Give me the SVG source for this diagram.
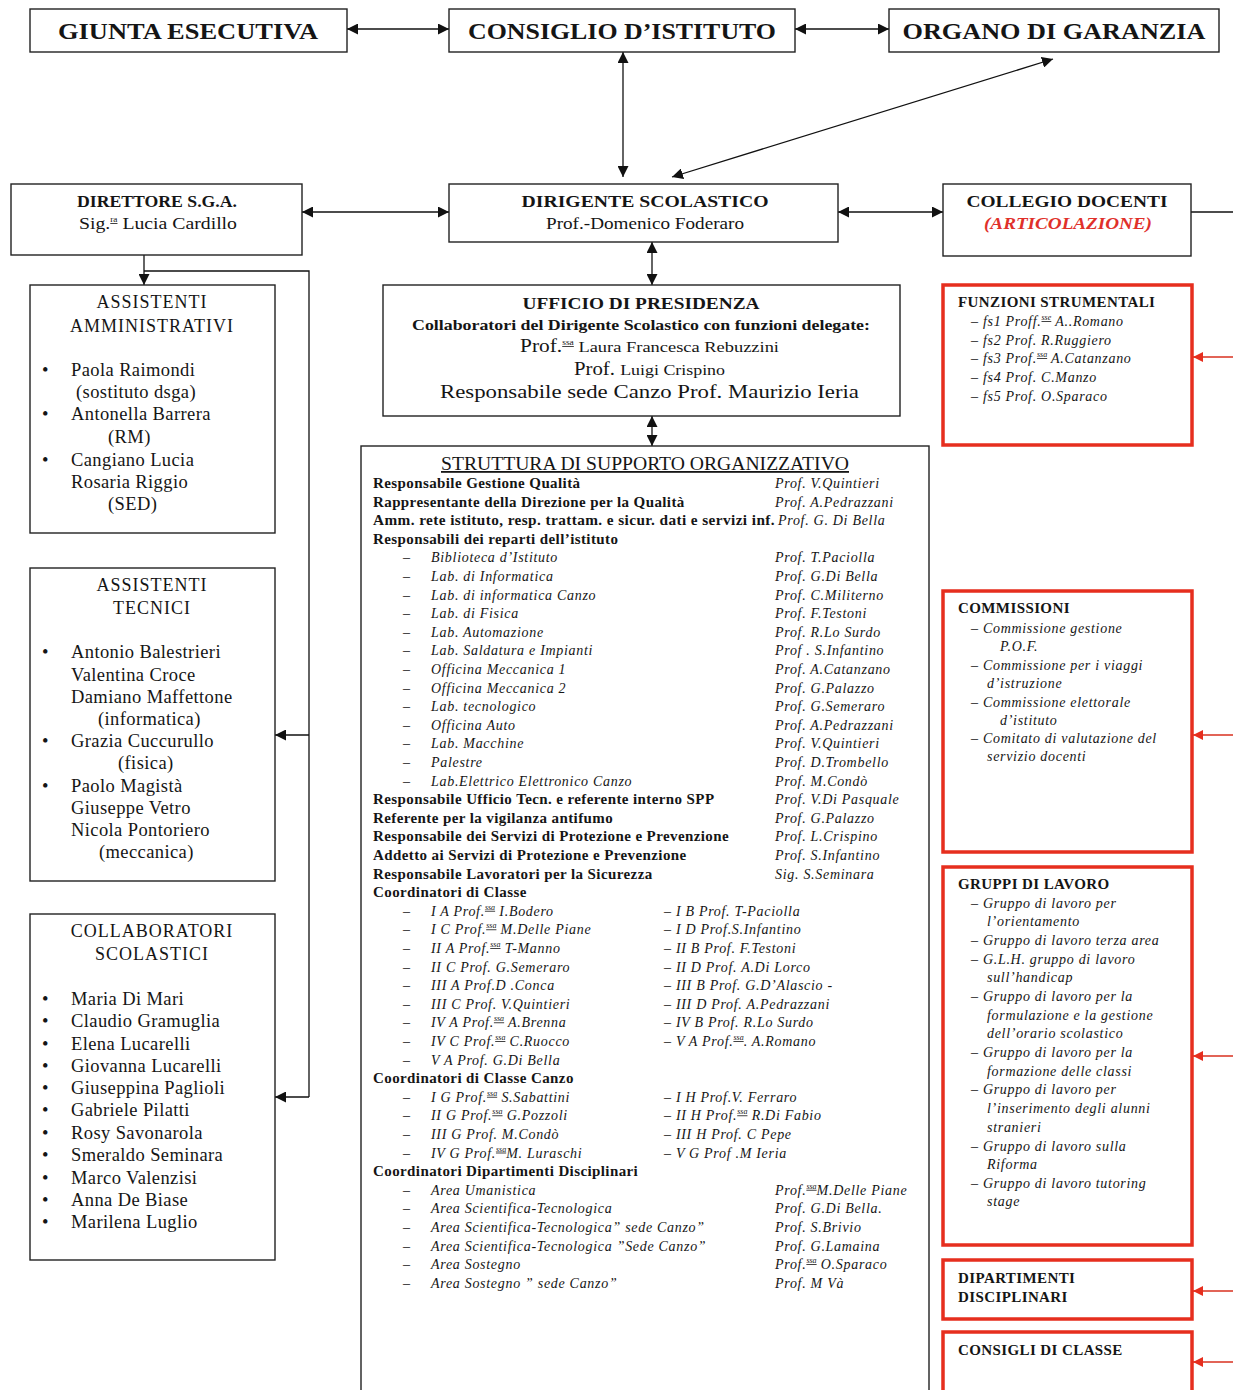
<svg xmlns="http://www.w3.org/2000/svg" width="1233" height="1390" viewBox="0 0 1233 1390">
<style>
.box{fill:#fff;stroke:#222;stroke-width:1.4}
.rbox{fill:#fff;stroke:#e62e1e;stroke-width:3.5}
.t{font-family:"Liberation Serif","Times New Roman",serif;fill:#151515}
.b{font-weight:bold}
.i{font-style:italic;letter-spacing:0.7px}
.big{font-size:24px;font-weight:bold}
.h17{font-size:17px}
.f14{font-size:14px}
.f14 .b,.b.f14{font-size:15px;letter-spacing:0.4px}
.f18{font-size:18px;letter-spacing:1px}
.f17{font-size:18.5px;letter-spacing:0.4px}
.ln{stroke:#111;stroke-width:1.3;fill:none}
.rln{stroke:#d9301f;stroke-width:1.3;fill:none}
.sup{font-size:8px;text-decoration:underline;letter-spacing:0}
</style>
<defs>
<marker id="ah" viewBox="0 0 10 10" refX="10" refY="5" markerWidth="11" markerHeight="11" markerUnits="userSpaceOnUse" orient="auto-start-reverse"><path d="M0,0 L10,5 L0,10 z" fill="#111"/></marker>
<marker id="rah" viewBox="0 0 10 10" refX="10" refY="5" markerWidth="10" markerHeight="10" markerUnits="userSpaceOnUse" orient="auto-start-reverse"><path d="M0,0 L10,5 L0,10 z" fill="#e62e1e"/></marker>
</defs>
<rect width="1233" height="1390" fill="#fff"/>

<g id="connectors">
<line class="ln" x1="347" y1="29" x2="449" y2="29" marker-start="url(#ah)" marker-end="url(#ah)"/>
<line class="ln" x1="795" y1="29" x2="889" y2="29" marker-start="url(#ah)" marker-end="url(#ah)"/>
<line class="ln" x1="623" y1="52" x2="623" y2="177" marker-start="url(#ah)" marker-end="url(#ah)"/>
<line class="ln" x1="1053" y1="59" x2="672" y2="177" marker-start="url(#ah)" marker-end="url(#ah)"/>
<line class="ln" x1="302" y1="212" x2="449" y2="212" marker-start="url(#ah)" marker-end="url(#ah)"/>
<line class="ln" x1="838" y1="212" x2="943" y2="212" marker-start="url(#ah)" marker-end="url(#ah)"/>
<line class="ln" x1="1191" y1="212" x2="1233" y2="212"/>
<line class="ln" x1="652" y1="242" x2="652" y2="285" marker-start="url(#ah)" marker-end="url(#ah)"/>
<line class="ln" x1="652" y1="416" x2="652" y2="446" marker-start="url(#ah)" marker-end="url(#ah)"/>
<line class="ln" x1="144" y1="255" x2="144" y2="285" marker-end="url(#ah)"/>
<polyline class="ln" points="144,271 309,271 309,1097"/>
<line class="ln" x1="309" y1="735" x2="275" y2="735" marker-end="url(#ah)"/>
<line class="ln" x1="309" y1="1097" x2="275" y2="1097" marker-end="url(#ah)"/>
<line class="rln" x1="1233" y1="357" x2="1193" y2="357" marker-end="url(#rah)"/>
<line class="rln" x1="1233" y1="735" x2="1193" y2="735" marker-end="url(#rah)"/>
<line class="rln" x1="1233" y1="1056" x2="1193" y2="1056" marker-end="url(#rah)"/>
<line class="rln" x1="1233" y1="1291" x2="1193" y2="1291" marker-end="url(#rah)"/>
<line class="rln" x1="1233" y1="1362" x2="1193" y2="1362" marker-end="url(#rah)"/>
</g>

<g id="giunta">
<rect class="box" x="30" y="9" width="317" height="43"/>
<text class="t big" x="188" y="39" text-anchor="middle" textLength="260" lengthAdjust="spacingAndGlyphs">GIUNTA ESECUTIVA</text>
</g>
<g id="consiglio">
<rect class="box" x="449" y="9" width="346" height="43"/>
<text class="t big" x="622" y="39" text-anchor="middle" textLength="308" lengthAdjust="spacingAndGlyphs">CONSIGLIO D’ISTITUTO</text>
</g>
<g id="organo">
<rect class="box" x="889" y="9" width="330" height="43"/>
<text class="t big" x="1054" y="39" text-anchor="middle" textLength="303" lengthAdjust="spacingAndGlyphs">ORGANO  DI GARANZIA</text>
</g>

<g id="direttore">
<rect class="box" x="11" y="184" width="291" height="71"/>
<text class="t b" font-size="16" x="157" y="207" text-anchor="middle" textLength="160" lengthAdjust="spacingAndGlyphs">DIRETTORE S.G.A.</text>
<text class="t" font-size="17" x="79" y="229" textLength="158" lengthAdjust="spacingAndGlyphs">Sig.<tspan class="sup" dy="-7">ra</tspan><tspan dy="7"> Lucia Cardillo</tspan></text>
</g>
<g id="dirigente">
<rect class="box" x="449" y="184" width="389" height="58"/>
<text class="t b h17" x="645" y="207" text-anchor="middle" textLength="247" lengthAdjust="spacingAndGlyphs">DIRIGENTE  SCOLASTICO</text>
<text class="t h17" x="645" y="229" text-anchor="middle" textLength="198" lengthAdjust="spacingAndGlyphs">Prof.-Domenico Foderaro</text>
</g>
<g id="collegio">
<rect class="box" x="943" y="184" width="248" height="72"/>
<text class="t b h17" x="1067" y="207" text-anchor="middle" textLength="201" lengthAdjust="spacingAndGlyphs">COLLEGIO DOCENTI</text>
<text class="t b h17" x="1068" y="229" text-anchor="middle" font-style="italic" style="fill:#e0302a" textLength="168" lengthAdjust="spacingAndGlyphs">(ARTICOLAZIONE)</text>
</g>

<g id="ufficio">
<rect class="box" x="383" y="285" width="517" height="131"/>
<text class="t b h17" x="641" y="309" text-anchor="middle" textLength="237" lengthAdjust="spacingAndGlyphs">UFFICIO DI PRESIDENZA</text>
<text class="t b" font-size="14.5" x="641" y="330" text-anchor="middle" textLength="458" lengthAdjust="spacingAndGlyphs">Collaboratori del Dirigente Scolastico con funzioni delegate:</text>
<text class="t" font-size="18" x="520" y="352" textLength="259" lengthAdjust="spacingAndGlyphs">Prof.<tspan class="sup" dy="-7">ssa</tspan><tspan dy="7" font-size="15.5"> Laura Francesca Rebuzzini</tspan></text>
<text class="t" font-size="18" x="574" y="375" textLength="151" lengthAdjust="spacingAndGlyphs">Prof. <tspan font-size="15.5">Luigi Crispino</tspan></text>
<text class="t" font-size="19" x="440" y="398" textLength="419" lengthAdjust="spacingAndGlyphs">Responsabile sede Canzo Prof. Maurizio Ieria</text>
</g>

<g id="struttura">
<rect class="box" x="361" y="446" width="568" height="950"/>
<text class="t" font-size="18" x="645" y="470" text-anchor="middle" text-decoration="underline" textLength="408" lengthAdjust="spacingAndGlyphs">STRUTTURA DI SUPPORTO ORGANIZZATIVO</text>
<g class="t f14">
<text class="b" x="373" y="488">Responsabile Gestione Qualità</text>
<text class="b" x="373" y="506.6">Rappresentante della Direzione per la Qualità</text>
<text class="b" x="373" y="525.2" textLength="402" lengthAdjust="spacingAndGlyphs">Amm. rete istituto, resp. trattam. e sicur. dati e servizi inf.</text>
<text class="b" x="373" y="543.8">Responsabili  dei reparti dell’istituto</text>
<text class="b" x="373" y="804.2">Responsabile Ufficio Tecn. e referente interno SPP</text>
<text class="b" x="373" y="822.8">Referente per la vigilanza antifumo</text>
<text class="b" x="373" y="841.4">Responsabile dei Servizi di Protezione e Prevenzione</text>
<text class="b" x="373" y="860">Addetto ai Servizi di Protezione e Prevenzione</text>
<text class="b" x="373" y="878.6">Responsabile Lavoratori per la Sicurezza</text>
<text class="b" x="373" y="897.2">Coordinatori di Classe</text>
<text class="b" x="373" y="1083.2">Coordinatori di Classe Canzo</text>
<text class="b" x="373" y="1176.2">Coordinatori Dipartimenti Disciplinari</text>
</g>
<g class="t f14 i">
<text x="775" y="488">Prof.  V.Quintieri</text>
<text x="775" y="506.6">Prof.  A.Pedrazzani</text>
<text x="778" y="525.2">Prof. G. Di Bella</text>
<text x="775" y="562.4">Prof. T.Paciolla</text>
<text x="775" y="581">Prof. G.Di Bella</text>
<text x="775" y="599.6">Prof. C.Militerno</text>
<text x="775" y="618.2">Prof. F.Testoni</text>
<text x="775" y="636.8">Prof. R.Lo Surdo</text>
<text x="775" y="655.4">Prof . S.Infantino</text>
<text x="775" y="674">Prof. A.Catanzano</text>
<text x="775" y="692.6">Prof. G.Palazzo</text>
<text x="775" y="711.2">Prof. G.Semeraro</text>
<text x="775" y="729.8">Prof. A.Pedrazzani</text>
<text x="775" y="748.4">Prof. V.Quintieri</text>
<text x="775" y="767">Prof. D.Trombello</text>
<text x="775" y="785.6">Prof. M.Condò</text>
<text x="775" y="804.2">Prof. V.Di Pasquale</text>
<text x="775" y="822.8">Prof.  G.Palazzo</text>
<text x="775" y="841.4">Prof. L.Crispino</text>
<text x="775" y="860">Prof. S.Infantino</text>
<text x="775" y="878.6">Sig.  S.Seminara</text>
<text x="775" y="1194.8">Prof.<tspan class="sup" dy="-6">ssa</tspan><tspan dy="6">M.Delle Piane</tspan></text>
<text x="775" y="1213.4">Prof. G.Di Bella.</text>
<text x="775" y="1232">Prof. S.Brivio</text>
<text x="775" y="1250.6">Prof. G.Lamaina</text>
<text x="775" y="1269.2">Prof.<tspan class="sup" dy="-6">ssa</tspan><tspan dy="6"> O.Sparaco</tspan></text>
<text x="775" y="1287.8">Prof. M Và</text>
</g>
<g class="t f14">
<text x="403" y="562.4">–</text><text x="403" y="581">–</text><text x="403" y="599.6">–</text><text x="403" y="618.2">–</text>
<text x="403" y="636.8">–</text><text x="403" y="655.4">–</text><text x="403" y="674">–</text><text x="403" y="692.6">–</text>
<text x="403" y="711.2">–</text><text x="403" y="729.8">–</text><text x="403" y="748.4">–</text><text x="403" y="767">–</text>
<text x="403" y="785.6">–</text>
<text x="403" y="915.8">–</text><text x="403" y="934.4">–</text><text x="403" y="953">–</text><text x="403" y="971.6">–</text>
<text x="403" y="990.2">–</text><text x="403" y="1008.8">–</text><text x="403" y="1027.4">–</text><text x="403" y="1046">–</text>
<text x="403" y="1064.6">–</text>
<text x="403" y="1101.8">–</text><text x="403" y="1120.4">–</text><text x="403" y="1139">–</text><text x="403" y="1157.6">–</text>
<text x="403" y="1194.8">–</text><text x="403" y="1213.4">–</text><text x="403" y="1232">–</text><text x="403" y="1250.6">–</text>
<text x="403" y="1269.2">–</text><text x="403" y="1287.8">–</text>
</g>
<g class="t f14 i">
<text x="431" y="562.4">Biblioteca d’Istituto</text>
<text x="431" y="581">Lab. di  Informatica</text>
<text x="431" y="599.6">Lab. di informatica Canzo</text>
<text x="431" y="618.2">Lab. di Fisica</text>
<text x="431" y="636.8">Lab. Automazione</text>
<text x="431" y="655.4">Lab. Saldatura  e Impianti</text>
<text x="431" y="674">Officina Meccanica 1</text>
<text x="431" y="692.6">Officina Meccanica 2</text>
<text x="431" y="711.2">Lab. tecnologico</text>
<text x="431" y="729.8">Officina Auto</text>
<text x="431" y="748.4">Lab. Macchine</text>
<text x="431" y="767">Palestre</text>
<text x="431" y="785.6">Lab.Elettrico Elettronico  Canzo</text>
<text x="431" y="915.8">I A  Prof.<tspan class="sup" dy="-6">ssa</tspan><tspan dy="6"> I.Bodero</tspan></text>
<text x="431" y="934.4">I C  Prof.<tspan class="sup" dy="-6">ssa</tspan><tspan dy="6"> M.Delle Piane</tspan></text>
<text x="431" y="953">II A  Prof.<tspan class="sup" dy="-6">ssa</tspan><tspan dy="6"> T-Manno</tspan></text>
<text x="431" y="971.6">II C  Prof. G.Semeraro</text>
<text x="431" y="990.2">III A Prof.D .Conca</text>
<text x="431" y="1008.8">III C  Prof. V.Quintieri</text>
<text x="431" y="1027.4">IV A Prof.<tspan class="sup" dy="-6">ssa</tspan><tspan dy="6"> A.Brenna</tspan></text>
<text x="431" y="1046">IV C Prof.<tspan class="sup" dy="-6">ssa</tspan><tspan dy="6"> C.Ruocco</tspan></text>
<text x="431" y="1064.6">V A  Prof. G.Di Bella</text>
<text x="431" y="1101.8">I G  Prof.<tspan class="sup" dy="-6">ssa</tspan><tspan dy="6"> S.Sabattini</tspan></text>
<text x="431" y="1120.4">II G Prof.<tspan class="sup" dy="-6">ssa</tspan><tspan dy="6"> G.Pozzoli</tspan></text>
<text x="431" y="1139">III G Prof. M.Condò</text>
<text x="431" y="1157.6">IV G Prof.<tspan class="sup" dy="-6">ssa</tspan><tspan dy="6">M. Luraschi</tspan></text>
<text x="431" y="1194.8">Area Umanistica</text>
<text x="431" y="1213.4">Area Scientifica-Tecnologica</text>
<text x="431" y="1232">Area Scientifica-Tecnologica” sede Canzo”</text>
<text x="431" y="1250.6">Area Scientifica-Tecnologica ”Sede Canzo”</text>
<text x="431" y="1269.2">Area Sostegno</text>
<text x="431" y="1287.8">Area Sostegno ” sede Canzo”</text>
<text x="664" y="915.8">– I B Prof. T-Paciolla</text>
<text x="664" y="934.4">– I D Prof.S.Infantino</text>
<text x="664" y="953">– II B Prof. F.Testoni</text>
<text x="664" y="971.6">–  II D Prof. A.Di Lorco</text>
<text x="664" y="990.2">– III B Prof. G.D’Alascio -</text>
<text x="664" y="1008.8">– III D Prof. A.Pedrazzani</text>
<text x="664" y="1027.4">– IV B Prof. R.Lo Surdo</text>
<text x="664" y="1046">– V A Prof.<tspan class="sup" dy="-6">ssa</tspan><tspan dy="6">. A.Romano</tspan></text>
<text x="664" y="1101.8">– I H Prof.V. Ferraro</text>
<text x="664" y="1120.4">– II H Prof.<tspan class="sup" dy="-6">ssa</tspan><tspan dy="6"> R.Di Fabio</tspan></text>
<text x="664" y="1139">– III H Prof. C Pepe</text>
<text x="664" y="1157.6">– V G Prof .M Ieria</text>
</g>
</g>

<g id="amministrativi">
<rect class="box" x="30" y="285" width="245" height="248"/>
<g class="t f18" text-anchor="middle">
<text x="152" y="308">ASSISTENTI</text>
<text x="152" y="332">AMMINISTRATIVI</text>
</g>
<g class="t f17">
<text x="42" y="376">•</text><text x="71" y="376">Paola  Raimondi</text>
<text x="76" y="398">(sostituto dsga)</text>
<text x="42" y="420">•</text><text x="71" y="420">Antonella Barrera</text>
<text x="108" y="443">(RM)</text>
<text x="42" y="466">•</text><text x="71" y="466">Cangiano  Lucia</text>
<text x="71" y="488">Rosaria Riggio</text>
<text x="108" y="510">(SED)</text>
</g>
</g>

<g id="tecnici">
<rect class="box" x="30" y="568" width="245" height="313"/>
<g class="t f18" text-anchor="middle">
<text x="152" y="591">ASSISTENTI</text>
<text x="152" y="614">TECNICI</text>
</g>
<g class="t f17">
<text x="42" y="658">•</text><text x="71" y="658">Antonio Balestrieri</text>
<text x="71" y="681">Valentina Croce</text>
<text x="71" y="703">Damiano Maffettone</text>
<text x="98" y="725">(informatica)</text>
<text x="42" y="747">•</text><text x="71" y="747">Grazia Cuccurullo</text>
<text x="118" y="769">(fisica)</text>
<text x="42" y="792">•</text><text x="71" y="792">Paolo Magistà</text>
<text x="71" y="814">Giuseppe Vetro</text>
<text x="71" y="836">Nicola Pontoriero</text>
<text x="99" y="858">(meccanica)</text>
</g>
</g>

<g id="collaboratori">
<rect class="box" x="30" y="914" width="245" height="346"/>
<g class="t f18" text-anchor="middle">
<text x="152" y="937">COLLABORATORI</text>
<text x="152" y="960">SCOLASTICI</text>
</g>
<g class="t f17">
<text x="42" y="1005">•</text><text x="71" y="1005">Maria Di Mari</text>
<text x="42" y="1027">•</text><text x="71" y="1027">Claudio Gramuglia</text>
<text x="42" y="1050">•</text><text x="71" y="1050">Elena Lucarelli</text>
<text x="42" y="1072">•</text><text x="71" y="1072">Giovanna Lucarelli</text>
<text x="42" y="1094">•</text><text x="71" y="1094">Giuseppina Paglioli</text>
<text x="42" y="1116">•</text><text x="71" y="1116">Gabriele Pilatti</text>
<text x="42" y="1139">•</text><text x="71" y="1139">Rosy Savonarola</text>
<text x="42" y="1161">•</text><text x="71" y="1161">Smeraldo Seminara</text>
<text x="42" y="1184">•</text><text x="71" y="1184">Marco Valenzisi</text>
<text x="42" y="1206">•</text><text x="71" y="1206">Anna De Biase</text>
<text x="42" y="1228">•</text><text x="71" y="1228">Marilena Luglio</text>
</g>
</g>

<g id="funzioni">
<rect class="rbox" x="943" y="285" width="249" height="160"/>
<text class="t b f14" x="958" y="307">FUNZIONI STRUMENTALI</text>
<g class="t f14 i">
<text x="971" y="326">– fs1  Proff.<tspan class="sup" dy="-6">sse</tspan><tspan dy="6"> A..Romano</tspan></text>
<text x="971" y="345">– fs2  Prof. R.Ruggiero</text>
<text x="971" y="363">– fs3  Prof.<tspan class="sup" dy="-6">ssa</tspan><tspan dy="6"> A.Catanzano</tspan></text>
<text x="971" y="382">– fs4 Prof. C.Manzo</text>
<text x="971" y="401">– fs5 Prof. O.Sparaco</text>
</g>
</g>

<g id="commissioni">
<rect class="rbox" x="943" y="591" width="249" height="261"/>
<text class="t b f14" x="958" y="613">COMMISSIONI</text>
<g class="t f14 i">
<text x="971" y="633">– Commissione gestione</text>
<text x="1000" y="651">P.O.F.</text>
<text x="971" y="670">– Commissione  per i viaggi</text>
<text x="987" y="688">d’istruzione</text>
<text x="971" y="707">– Commissione elettorale</text>
<text x="1000" y="725">d’istituto</text>
<text x="971" y="743">– Comitato di valutazione del</text>
<text x="987" y="761">servizio docenti</text>
</g>
</g>

<g id="gruppi">
<rect class="rbox" x="943" y="867" width="249" height="378"/>
<text class="t b f14" x="958" y="889">GRUPPI DI LAVORO</text>
<g class="t f14 i">
<text x="971" y="908">– Gruppo di lavoro per</text>
<text x="987" y="926">l’orientamento</text>
<text x="971" y="945">– Gruppo di lavoro  terza area</text>
<text x="971" y="964">– G.L.H. gruppo di lavoro</text>
<text x="987" y="982">sull’handicap</text>
<text x="971" y="1001">– Gruppo di lavoro per la</text>
<text x="987" y="1020">formulazione e la gestione</text>
<text x="987" y="1038">dell’orario scolastico</text>
<text x="971" y="1057">– Gruppo di lavoro per la</text>
<text x="987" y="1076">formazione delle classi</text>
<text x="971" y="1094">– Gruppo di lavoro per</text>
<text x="987" y="1113">l’inserimento degli alunni</text>
<text x="987" y="1132">stranieri</text>
<text x="971" y="1151">– Gruppo di lavoro sulla</text>
<text x="987" y="1169">Riforma</text>
<text x="971" y="1188">– Gruppo di lavoro tutoring</text>
<text x="987" y="1206">stage</text>
</g>
</g>

<g id="dipartimenti">
<rect class="rbox" x="943" y="1260" width="249" height="59"/>
<text class="t b f14" x="958" y="1283">DIPARTIMENTI</text>
<text class="t b f14" x="958" y="1302">DISCIPLINARI</text>
</g>

<g id="consigli">
<rect class="rbox" x="943" y="1332" width="249" height="70"/>
<text class="t b f14" x="958" y="1355">CONSIGLI DI CLASSE</text>
</g>
</svg>
